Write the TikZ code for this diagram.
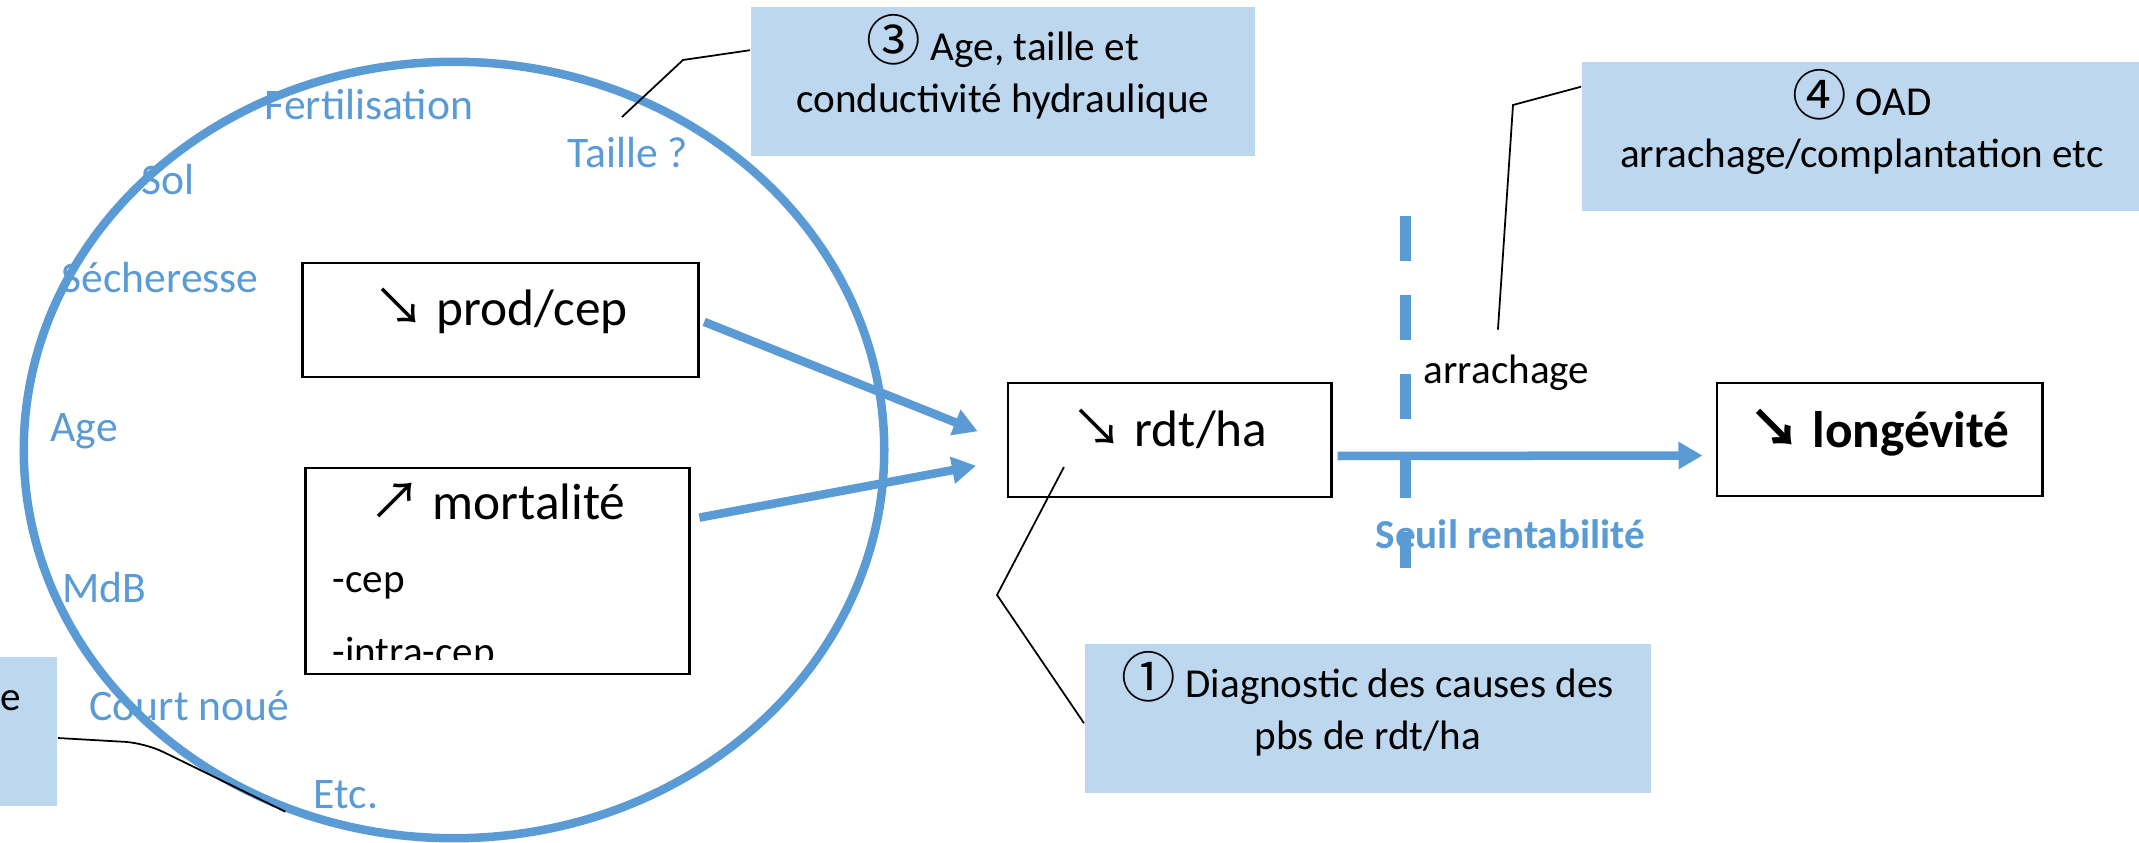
\documentclass[tikz,border=0pt]{standalone}
\usepackage{fontspec}
\setmainfont{Carlito}
\newfontfamily\symfont{Noto Sans CJK SC}
\usepackage{tikz}
\usetikzlibrary{arrows.meta, shapes.geometric}
\tikzset{>={Triangle[width=2.6mm,length=2.4mm]}}
\definecolor{bleu}{RGB}{91,155,213}
\definecolor{bleuclair}{RGB}{189,215,238}
\newcommand{\bas}{{\symfont ↘}}
\newcommand{\haut}{{\symfont ↗}}
\newcommand{\cercle}[1]{\smash{\symfont\fontsize{15.5}{15}\selectfont #1}}

\begin{document}
\begin{tikzpicture}[x = 0.01cm, y = -0.01cm,
		facteur/.style = {text = bleu, inner sep = 0, anchor = base west, font = \fontsize{12.4}{15}\selectfont},
		petit/.style = {inner sep = 0, anchor = base west, font = \fontsize{11.7}{14}\selectfont},
		boite/.style = {draw, fill = white, line width = 0.8pt, inner sep = 0, text height = 0.4cm, font = \fontsize{14.6}{17}\selectfont},
		bulle/.style = {fill = bleuclair, inner xsep = 0, inner ysep = 0.11cm, align = center, anchor = north west, font = \fontsize{11.7}{14.8}\selectfont},
		flow/.style = {->, bleu, line width = 0.085cm},
		lead/.style = {line width = 0.5pt}]
		\useasboundingbox (0,0) rectangle (2139,843);
		\node (fert) [facteur] at (264,120) {Fertilisation};
		\node (sol) [facteur] at (141,195) {Sol};
		\node (sech) [facteur] at (61,293) {Sécheresse};
		\node (age) [facteur] at (50,442) {Age};
		\node (mdb) [facteur] at (62,602) {MdB};
		\node (cn) [facteur] at (89,720) {Court noué};
		\node (etc) [facteur] at (313,808) {Etc.};
		\node (taille) [facteur] at (567,168) {Taille ?};
		\node (circ) [ellipse, draw = bleu, line width = 0.085cm, inner sep = 0, minimum width = 8.6cm, minimum height = 7.76cm] at (454,450) {};
		\node (prod) [boite, minimum width = 3.95cm, minimum height = 1.14cm, text depth = 0.30cm] at (500.5,320) {\bas\ prod/cep};
		\node (mort) [boite, minimum width = 3.83cm, minimum height = 2.06cm, text depth = 1.42cm] at (497.5,571) {\haut\ mortalité};
		\begin{scope}
			\clip (306,468) rectangle (689,659);
			\node (cep) [petit] at (332,593) {-cep};
			\node (intra) [petit] at (332,665) {-intra-cep};
		\end{scope}
		\node (rdt) [boite, minimum width = 3.23cm, minimum height = 1.14cm, text depth = 0.28cm] at (1169.5,440) {\bas\ rdt/ha};
		\node (lon) [boite, minimum width = 3.25cm, minimum height = 1.13cm, text depth = 0.25cm, font = \fontsize{14.6}{17}\selectfont\bfseries] at (1879.5,439.5) {\bas\ longévité};
		\node (seuil) [petit, text = bleu, font = \fontsize{11.7}{14}\selectfont\bfseries] at (1375,548) {Seuil rentabilité};
		\node (arr) [petit] at (1423,384) {arrachage};
		\draw[bleu, line width = 0.11cm, dash pattern = on 0.45cm off 0.34cm] (1405,216) -- (1405,568);
		\path[flow]
		(prod.east) edge [shorten <= 0.05cm, shorten >= 0.31cm] (rdt.181)
		(mort.15) edge [shorten <= 0.09cm, shorten >= 0.31cm] (rdt.187.4)
		([yshift = -0.16cm]rdt.east) edge [shorten <= 0.05cm, shorten >= 0.13cm] ([yshift = -0.16cm]lon.west);
		\node (c3) [bulle, minimum width = 5.04cm] at (750,6) {\rule{0pt}{0.43cm}\cercle{③} Age, taille et\\conductivité hydraulique\rule[-0.32cm]{0pt}{0pt}};
		\node (c4) [bulle, minimum width = 5.6cm] at (1581,61) {\rule{0pt}{0.43cm}\cercle{④} OAD\\arrachage/complantation etc\rule[-0.32cm]{0pt}{0pt}};
		\node (c1) [bulle, minimum width = 5.66cm] at (1084,643) {\rule{0pt}{0.43cm}\cercle{①} Diagnostic des causes des\\pbs de rdt/ha\rule[-0.32cm]{0pt}{0pt}};
		\node (c2) [bulle, anchor = north east, text width = 1.2cm, align = right, inner xsep = 0.36cm] at (58,656) {\rule{0pt}{0.43cm}e\\\rule[-0.32cm]{0pt}{0pt}};
		\draw[lead] ([xshift = -0.06cm, yshift = 0.2cm]taille.north) -- (683,60) -- (c3.173);
		\draw[lead] ([xshift = -0.085cm, yshift = 0.25cm]arr.north) -- (1513,105) -- (c4.170);
		\draw[lead] ([xshift = -1.055cm, yshift = -0.27cm]rdt.center) -- (997,595) -- (c1.181);
		\draw[lead, rounded corners = 0.2cm] (c2.-4) -- (145,743) -- (circ.245);
\end{tikzpicture}
\end{document}
